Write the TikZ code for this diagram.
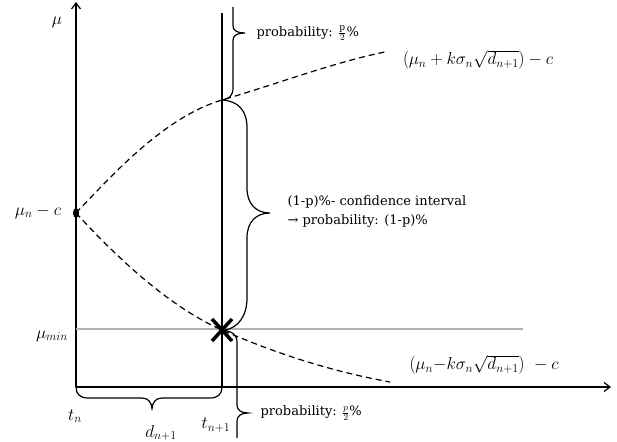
\documentclass[tikz,border=0pt]{standalone}
\usepackage{fontspec}
\setmainfont{DejaVu Serif}
\usetikzlibrary{arrows.meta}
\begin{document}
\begin{tikzpicture}[x=1pt,y=-1pt, line width=1.2pt,
  ax/.style={line width=1.2pt,-{Straight Barb[length=6pt,width=9pt]}},
  dsh/.style={dash pattern=on 6pt off 4pt, line width=1.2pt},
  lbl/.style={inner sep=0pt, font=\fontsize{13}{15}\selectfont},
  mth/.style={inner sep=0pt, font=\fontsize{17}{19}\selectfont}]
\useasboundingbox (0,0) rectangle (617,441);
\coordinate (O) at (76,387);
\coordinate (ytop) at (76,2);
\coordinate (xend) at (611,387);
\draw[ax] (O) -- (ytop);
\draw[ax] (O) -- (xend);
\coordinate (vtop) at (222,13);
\coordinate (vbot) at (222,387);
\draw (vtop) -- (vbot);
\coordinate (gl) at (76,329);
\coordinate (gr) at (523,329);
\draw[black!30] (gl) -- (gr);
\coordinate (P0) at (76,213);
\coordinate (Pu) at (222,100);
\coordinate (Pl) at (222,330);
\coordinate (Eu) at (385,52);
\coordinate (El) at (390,382);
\draw[dsh] (P0) .. controls (115,172) and (165,117) .. (Pu) .. controls (280,83) and (335,62) .. (Eu);
\draw[dsh] (P0) .. controls (110,250) and (165,305) .. (Pl) .. controls (279,355) and (335,372) .. (El);
\fill (P0) ellipse [x radius=3, y radius=5];
% big brace
\draw (Pu) .. controls (238,101) and (247,110) .. (247,128) -- (247,188) .. controls (247,204) and (256,213) .. (270,213) .. controls (256,213) and (247,222) .. (247,238) -- (247,298) .. controls (247,316) and (238,328) .. (225,330);
% top brace
\draw (Pu) .. controls (229,99) and (233,96) .. (233,88) -- (233,40) .. controls (233,35) and (238,33) .. (245,33) .. controls (238,33) and (233,31) .. (233,26) -- (233,7);
% bottom brace
\draw (Pl) .. controls (231,331) and (237,334) .. (237,342) -- (237,405) .. controls (237,410) and (241,413) .. (248,413) .. controls (241,413) and (237,416) .. (237,421) -- (237,438);
% d brace
\draw (O) .. controls (76,394) and (80,398) .. (88,398) -- (142,398) .. controls (148,398) and (152,402) .. (152,410) .. controls (152,402) and (156,398) .. (162,398) -- (210,398) .. controls (218,398) and (222,394) .. (vbot);
% X mark
\draw[line width=3.5pt] (212,319) -- (232,341) (212,341) -- (232,319);
% labels
\node[mth] (lmu) at (57,22) {$\mu$};
\node[mth] (lmuc) at (38,212) {$\mu_n - c$};
\node[mth] (lmin) at (52,336) {$\mu_{min}$};
\node[mth] (ltn) at (75,416) {$t_n$};
\node[mth] (ld) at (161,433) {$d_{n+1}$};
\node[mth] (ltn1) at (216,425) {$t_{n+1}$};
\node[lbl, anchor=west] (ptop) at (256,33) {probability: $\frac{\mathrm{p}}{2}$\%};
\node[lbl, anchor=west] (pbot) at (260,413) {probability: $\frac{p}{2}$\%};
\node[mth] (fu) at (478,60) {$\left(\mu_n + k\sigma_n\sqrt{d_{n+1}}\right) - c$};
\node[mth] (fl) at (484,365) {$\left(\mu_n{-}k\sigma_n\sqrt{d_{n+1}}\right)\ - c$};
\node[lbl, anchor=west, align=left, font=\fontsize{13}{19}\selectfont] (ci) at (287,212) {(1-p)\%- confidence interval\\→ probability: (1-p)\%};
\end{tikzpicture}
\end{document}
